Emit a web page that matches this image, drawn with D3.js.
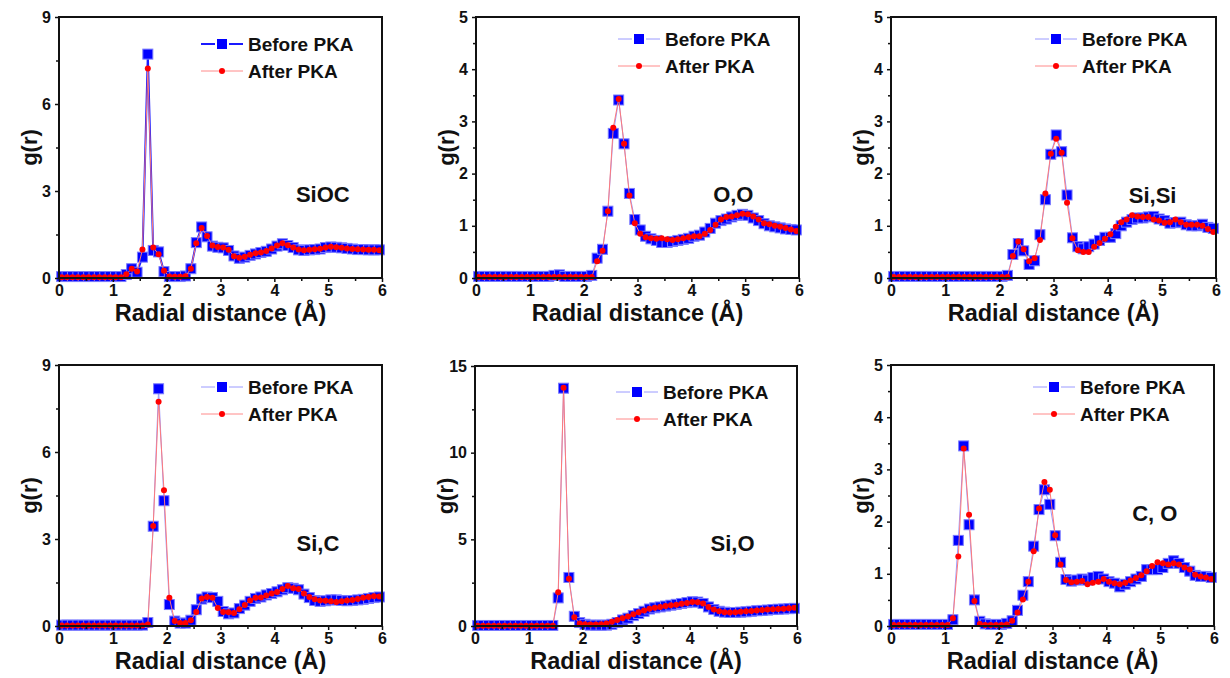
<!DOCTYPE html>
<html>
  <head>
    <meta charset="utf-8">
    <title>Radial distribution functions before and after PKA</title>
    <script src="https://d3js.org/d3.v7.min.js"></script>
    <style>
      body { margin: 0; background: #fff; }
      svg text { font-family: "Liberation Sans", Arial, sans-serif; font-weight: bold; fill: #111; }
    </style>
  </head>
  <body>
    <div id="chart"></div>
    <script>
      // bin centres (Å)
      const radius = [0.05, 0.15, 0.25, 0.35, 0.45, 0.55, 0.65, 0.75, 0.85, 0.95,
        1.05, 1.15, 1.25, 1.35, 1.45, 1.55, 1.65, 1.75, 1.85, 1.95,
        2.05, 2.15, 2.25, 2.35, 2.45, 2.55, 2.65, 2.75, 2.85, 2.95,
        3.05, 3.15, 3.25, 3.35, 3.45, 3.55, 3.65, 3.75, 3.85, 3.95,
        4.05, 4.15, 4.25, 4.35, 4.45, 4.55, 4.65, 4.75, 4.85, 4.95,
        5.05, 5.15, 5.25, 5.35, 5.45, 5.55, 5.65, 5.75, 5.85, 5.95];

      const pairNames = ["SiOC", "O,O", "Si,Si", "Si,C", "Si,O", "C, O"];
      const seriesNames = ["Before PKA", "After PKA"];
      const xTicks = [0, 1, 2, 3, 4, 5, 6];
      const yTicks = [[0, 3, 6, 9], [0, 1, 2, 3, 4, 5], [0, 1, 2, 3, 4, 5],
        [0, 3, 6, 9], [0, 5, 10, 15], [0, 1, 2, 3, 4, 5]];

      const siocBefore = [0.05, 0.05, 0.05, 0.05, 0.05, 0.05, 0.05, 0.05, 0.05, 0.05,
        0.05, 0.05, 0.12, 0.32, 0.2, 0.72, 7.72, 0.95, 0.9, 0.22,
        0.05, 0.05, 0.05, 0.07, 0.32, 1.22, 1.76, 1.42, 1.1, 1.06,
        1.04, 0.95, 0.76, 0.68, 0.72, 0.78, 0.83, 0.88, 0.92, 1.0,
        1.1, 1.18, 1.12, 1.05, 0.97, 0.95, 0.97, 0.98, 1.0, 1.05,
        1.07, 1.06, 1.04, 1.02, 1.0, 0.98, 0.98, 0.97, 0.97, 0.97];
      const siocAfter = [0.03, 0.03, 0.03, 0.03, 0.03, 0.03, 0.03, 0.03, 0.03, 0.03,
        0.03, 0.03, 0.13, 0.32, 0.22, 0.98, 7.22, 1.05, 0.82, 0.25,
        0.05, 0.04, 0.04, 0.06, 0.32, 1.2, 1.72, 1.45, 1.12, 1.07,
        1.05, 0.97, 0.75, 0.7, 0.73, 0.8, 0.85, 0.88, 0.93, 1.02,
        1.12, 1.2, 1.13, 1.05, 0.98, 0.96, 0.97, 0.99, 1.01, 1.05,
        1.08, 1.06, 1.04, 1.02, 1.0, 0.99, 0.98, 0.97, 0.97, 0.96];

      const ooBefore = [0.03, 0.03, 0.03, 0.03, 0.03, 0.03, 0.03, 0.03, 0.03, 0.03,
        0.03, 0.03, 0.03, 0.03, 0.05, 0.06, 0.03, 0.03, 0.03, 0.03,
        0.03, 0.05, 0.38, 0.55, 1.28, 2.77, 3.41, 2.57, 1.62, 1.12,
        0.92, 0.8, 0.75, 0.72, 0.68, 0.68, 0.7, 0.72, 0.74, 0.76,
        0.8, 0.82, 0.88, 0.95, 1.05, 1.1, 1.13, 1.17, 1.2, 1.22,
        1.2, 1.15, 1.1, 1.04, 1.0, 0.98, 0.96, 0.94, 0.93, 0.92];
      const ooAfter = [0.02, 0.02, 0.02, 0.02, 0.02, 0.02, 0.02, 0.02, 0.02, 0.02,
        0.02, 0.02, 0.02, 0.02, 0.02, 0.02, 0.02, 0.02, 0.02, 0.02,
        0.02, 0.02, 0.32, 0.52, 1.28, 2.88, 3.43, 2.57, 1.58, 1.05,
        0.85, 0.78, 0.76, 0.75, 0.76, 0.74, 0.73, 0.74, 0.76, 0.78,
        0.8, 0.8, 0.85, 0.92, 1.02, 1.12, 1.17, 1.18, 1.2, 1.23,
        1.22, 1.18, 1.12, 1.05, 1.03, 1.0, 0.98, 0.96, 0.93, 0.9];

      const sisiBefore = [0.03, 0.03, 0.03, 0.03, 0.03, 0.03, 0.03, 0.03, 0.03, 0.03,
        0.03, 0.03, 0.03, 0.03, 0.03, 0.03, 0.03, 0.03, 0.03, 0.03,
        0.03, 0.05, 0.45, 0.66, 0.52, 0.26, 0.33, 0.83, 1.5, 2.37,
        2.74, 2.42, 1.59, 0.77, 0.6, 0.56, 0.6, 0.65, 0.72, 0.78,
        0.78, 0.85, 1.0, 1.07, 1.12, 1.15, 1.15, 1.17, 1.18, 1.13,
        1.1, 1.05, 1.06, 1.07, 1.02, 1.0, 1.0, 1.03, 0.97, 0.95];
      const sisiAfter = [0.02, 0.02, 0.02, 0.02, 0.02, 0.02, 0.02, 0.02, 0.02, 0.02,
        0.02, 0.02, 0.02, 0.02, 0.02, 0.02, 0.02, 0.02, 0.02, 0.02,
        0.02, 0.02, 0.42, 0.7, 0.55, 0.32, 0.38, 0.73, 1.62, 2.38,
        2.67, 2.4, 1.44, 0.76, 0.53, 0.5, 0.5, 0.6, 0.67, 0.75,
        0.84, 0.98, 1.07, 1.12, 1.2, 1.18, 1.17, 1.17, 1.12, 1.1,
        1.06, 1.07, 1.12, 1.07, 1.02, 1.02, 1.02, 1.0, 0.94, 0.88];

      const sicBefore = [0.03, 0.03, 0.03, 0.03, 0.03, 0.03, 0.03, 0.03, 0.03, 0.03,
        0.03, 0.03, 0.03, 0.03, 0.03, 0.03, 0.12, 3.44, 8.18, 4.32,
        0.74, 0.17, 0.1, 0.1, 0.2, 0.56, 0.93, 1.0, 0.98, 0.85,
        0.5, 0.42, 0.45, 0.6, 0.72, 0.85, 0.95, 1.0, 1.07, 1.12,
        1.18, 1.25, 1.32, 1.3, 1.25, 1.1, 0.98, 0.88, 0.85, 0.87,
        0.9, 0.9, 0.88, 0.87, 0.88, 0.9, 0.92, 0.95, 0.98, 1.0];
      const sicAfter = [0.02, 0.02, 0.02, 0.02, 0.02, 0.02, 0.02, 0.02, 0.02, 0.02,
        0.02, 0.02, 0.02, 0.02, 0.02, 0.02, 0.05, 3.45, 7.73, 4.68,
        0.97, 0.17, 0.1, 0.1, 0.2, 0.48, 0.95, 1.0, 0.97, 0.62,
        0.48, 0.47, 0.45, 0.58, 0.72, 0.88, 0.97, 0.98, 1.05, 1.12,
        1.17, 1.28, 1.38, 1.3, 1.28, 1.12, 1.0, 0.92, 0.88, 0.87,
        0.85, 0.83, 0.85, 0.88, 0.9, 0.93, 0.97, 1.0, 1.03, 1.02];

      const sioBefore = [0.03, 0.03, 0.03, 0.03, 0.03, 0.03, 0.03, 0.03, 0.03, 0.03,
        0.03, 0.03, 0.03, 0.03, 0.03, 1.62, 13.72, 2.8, 0.56, 0.2,
        0.1, 0.05, 0.05, 0.05, 0.05, 0.1, 0.2, 0.35, 0.45, 0.6,
        0.72, 0.85, 0.98, 1.05, 1.1, 1.15, 1.2, 1.25, 1.3, 1.35,
        1.4, 1.38, 1.3, 1.1, 0.95, 0.85, 0.8, 0.78, 0.78, 0.8,
        0.82, 0.85, 0.88, 0.9, 0.92, 0.95, 0.97, 0.98, 1.0, 1.02];
      const sioAfter = [0.02, 0.02, 0.02, 0.02, 0.02, 0.02, 0.02, 0.02, 0.02, 0.02,
        0.02, 0.02, 0.02, 0.02, 0.02, 1.95, 13.75, 2.72, 0.5, 0.15,
        0.1, 0.08, 0.08, 0.1, 0.15, 0.25, 0.35, 0.45, 0.55, 0.68,
        0.8, 0.9, 1.0, 1.05, 1.1, 1.15, 1.2, 1.23, 1.28, 1.32,
        1.38, 1.37, 1.3, 1.1, 0.95, 0.85, 0.8, 0.78, 0.8, 0.82,
        0.85, 0.87, 0.9, 0.92, 0.95, 0.97, 0.98, 1.0, 1.02, 1.05];

      const coBefore = [0.03, 0.03, 0.03, 0.03, 0.03, 0.03, 0.03, 0.03, 0.03, 0.03,
        0.03, 0.12, 1.64, 3.45, 1.94, 0.5, 0.09, 0.04, 0.03, 0.03,
        0.03, 0.05, 0.1, 0.3, 0.59, 0.85, 1.53, 2.23, 2.61, 2.33,
        1.73, 1.22, 0.89, 0.86, 0.88, 0.9, 0.88, 0.93, 0.95, 0.9,
        0.85, 0.82, 0.75, 0.8, 0.85, 0.9, 0.95, 1.08, 1.08, 1.08,
        1.12, 1.2, 1.25, 1.2, 1.12, 1.05, 0.97, 0.95, 0.95, 0.93];
      const coAfter = [0.02, 0.02, 0.02, 0.02, 0.02, 0.02, 0.02, 0.02, 0.02, 0.02,
        0.02, 0.15, 1.33, 3.4, 2.13, 0.48, 0.04, 0.02, 0.02, 0.02,
        0.02, 0.03, 0.1, 0.26, 0.51, 0.85, 1.43, 2.25, 2.76, 2.61,
        1.74, 1.18, 0.88, 0.84, 0.85, 0.86, 0.8, 0.83, 0.85, 0.9,
        0.85, 0.82, 0.8, 0.83, 0.87, 0.92, 0.97, 1.05, 1.15, 1.22,
        1.2, 1.18, 1.2, 1.18, 1.12, 1.08, 0.98, 0.95, 0.93, 0.9];

      const beforeSeries = [siocBefore, ooBefore, sisiBefore, sicBefore, sioBefore, coBefore];
      const afterSeries = [siocAfter, ooAfter, sisiAfter, sicAfter, sioAfter, coAfter];
      // where the pair label sits, in data units
      const labelAt = [[4.9, 2.9], [4.78, 1.61], [4.83, 1.58], [4.81, 2.86], [4.8, 4.79], [4.9, 2.16]];

      // panel frames in page pixels
      const frames = [
        { left: 59, right: 382, top: 17, bottom: 278, legendDy: 27 },
        { left: 476, right: 799, top: 17, bottom: 278, legendDy: 22 },
        { left: 891, right: 1216, top: 17, bottom: 278, legendDy: 22 },
        { left: 59, right: 382, top: 365, bottom: 626, legendDy: 22 },
        { left: 475, right: 797, top: 366, bottom: 626, legendDy: 26 },
        { left: 891, right: 1214, top: 365, bottom: 626, legendDy: 22 }
      ];

      const blue = "#0000ff", red = "#ff0000";

      const svg = d3.select("#chart")
        .append("svg")
        .attr("width", 1230)
        .attr("height", 678);

      pairNames.forEach(function(name, p) {
        let f = frames[p];
        let ticks = yTicks[p];
        let yMax = ticks[ticks.length - 1];
        let x = d3.scaleLinear().domain([0, 6]).range([f.left, f.right]);
        let y = d3.scaleLinear().domain([0, yMax]).range([f.bottom, f.top]);
        let step = ticks[1] - ticks[0];
        let minorY = d3.range(step / 2, yMax, step);
        let g = svg.append("g");

        // Before line colour: strong in SiOC panel, pale elsewhere
        let beforeLine = p === 0 ? { color: "#1a1aff", width: 2 } : { color: "#9a9aff", width: 1 };

        let line = d3.line()
          .x(function(d) { return x(d[0]); })
          .y(function(d) { return y(d[1]); });

        let before = radius.map(function(r, i) { return [r, beforeSeries[p][i]]; });
        let after = radius.map(function(r, i) { return [r, afterSeries[p][i]]; });

        let plot = g.append("g");
        plot.append("path")
          .attr("d", line(before))
          .attr("fill", "none")
          .attr("stroke", beforeLine.color)
          .attr("stroke-width", beforeLine.width);
        plot.selectAll(".sq")
          .data(before)
          .enter().append("rect")
            .attr("x", function(d) { return x(d[0]) - 5; })
            .attr("y", function(d) { return y(d[1]) - 5; })
            .attr("width", 10)
            .attr("height", 10)
            .attr("fill", blue)
            .attr("stroke", "#7a7aff")
            .attr("stroke-width", 1);
        plot.append("path")
          .attr("d", line(after))
          .attr("fill", "none")
          .attr("stroke", "#ff7a7a")
          .attr("stroke-width", 1);
        plot.selectAll(".dot")
          .data(after)
          .enter().append("circle")
            .attr("cx", function(d) { return x(d[0]); })
            .attr("cy", function(d) { return y(d[1]); })
            .attr("r", 3)
            .attr("fill", red);

        // axes
        let xAxis = g.append("g")
          .attr("transform", "translate(0," + f.bottom + ")")
          .call(d3.axisBottom(x).tickValues(xTicks).tickFormat(d3.format("d"))
            .tickSize(4).tickSizeOuter(0).tickPadding(2));
        g.append("g")
          .attr("transform", "translate(0," + f.bottom + ")")
          .call(d3.axisBottom(x).tickValues(d3.range(0.5, 6, 1)).tickSize(3).tickFormat(""));
        let yAxis = g.append("g")
          .attr("transform", "translate(" + f.left + ",0)")
          .call(d3.axisLeft(y).tickValues(ticks).tickFormat(d3.format("d"))
            .tickSize(4).tickSizeOuter(0).tickPadding(4));
        g.append("g")
          .attr("transform", "translate(" + f.left + ",0)")
          .call(d3.axisLeft(y).tickValues(minorY).tickSize(3).tickFormat(""));
        g.selectAll(".domain").remove();
        g.selectAll(".tick line").attr("stroke", "#111").attr("stroke-width", 1.5);
        xAxis.selectAll("text").style("font-size", "16px").attr("dy", "0.75em");
        yAxis.selectAll("text").style("font-size", "16px");

        // frame
        g.append("rect")
          .attr("x", f.left)
          .attr("y", f.top)
          .attr("width", f.right - f.left)
          .attr("height", f.bottom - f.top)
          .attr("fill", "none")
          .attr("stroke", "#111")
          .attr("stroke-width", 2);

        // axis titles
        g.append("text")
          .attr("x", (f.left + f.right) / 2)
          .attr("y", f.bottom + 43)
          .attr("text-anchor", "middle")
          .style("font-size", "23.5px")
          .text("Radial distance (Å)");
        g.append("text")
          .attr("transform", "translate(" + (f.left - 22) + "," + ((f.top + f.bottom) / 2) + ") rotate(-90)")
          .attr("text-anchor", "middle")
          .style("font-size", "22px")
          .text("g(r)");

        // pair label
        g.append("text")
          .attr("x", x(labelAt[p][0]))
          .attr("y", y(labelAt[p][1]))
          .attr("dy", "0.36em")
          .attr("text-anchor", "middle")
          .style("font-size", "22px")
          .text(name);

        // legend
        let lx = f.right - 181;
        seriesNames.forEach(function(s, k) {
          let ly = f.top + f.legendDy + k * 27;
          let lg = g.append("g");
          if (k === 0) {
            lg.append("line").attr("x1", lx).attr("x2", lx + 14).attr("y1", ly).attr("y2", ly)
              .attr("stroke", beforeLine.color).attr("stroke-width", beforeLine.width);
            lg.append("line").attr("x1", lx + 28).attr("x2", lx + 42).attr("y1", ly).attr("y2", ly)
              .attr("stroke", beforeLine.color).attr("stroke-width", beforeLine.width);
            lg.append("rect").attr("x", lx + 21 - 5).attr("y", ly - 5).attr("width", 10).attr("height", 10)
              .attr("fill", blue);
          } else {
            lg.append("line").attr("x1", lx).attr("x2", lx + 42).attr("y1", ly).attr("y2", ly)
              .attr("stroke", "#ff8a8a").attr("stroke-width", 1);
            lg.append("circle").attr("cx", lx + 21).attr("cy", ly).attr("r", 3).attr("fill", red);
          }
          lg.append("text")
            .attr("x", lx + 47)
            .attr("y", ly)
            .attr("dy", "0.36em")
            .style("font-size", "19px")
            .text(s);
        });
      });
    </script>
  </body>
</html>
